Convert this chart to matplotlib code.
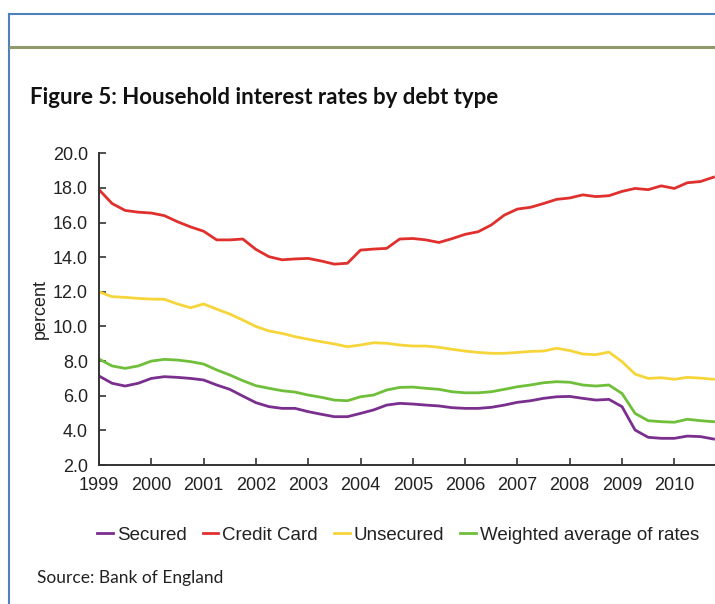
import matplotlib.pyplot as plt
from matplotlib.lines import Line2D
from matplotlib.ticker import FormatStrFormatter
import numpy as np

# Quarterly data, 1999 Q1 .. 2010 Q4
quarters = np.arange(1999, 2010.76, 0.25)

secured = [7.14, 6.72, 6.56, 6.72, 7.0, 7.1, 7.06, 7.0, 6.91, 6.62, 6.37, 5.98,
           5.6, 5.37, 5.27, 5.27, 5.08, 4.93, 4.79, 4.79, 4.98, 5.18, 5.46, 5.56,
           5.52, 5.46, 5.41, 5.31, 5.27, 5.27, 5.33, 5.46, 5.62, 5.71, 5.85, 5.94,
           5.96, 5.85, 5.75, 5.79, 5.37, 4.02, 3.6, 3.54, 3.54, 3.67, 3.64, 3.5]
credit_card = [17.9, 17.1, 16.7, 16.6, 16.55, 16.4, 16.05, 15.75, 15.5, 15.0, 15.0, 15.05,
               14.45, 14.03, 13.85, 13.9, 13.93, 13.78, 13.6, 13.65, 14.41, 14.47, 14.51, 15.05,
               15.08, 15.0, 14.85, 15.07, 15.32, 15.47, 15.86, 16.43, 16.78, 16.88, 17.1, 17.34,
               17.42, 17.6, 17.5, 17.55, 17.8, 17.97, 17.9, 18.12, 17.97, 18.3, 18.37, 18.62]
unsecured = [12.0, 11.72, 11.68, 11.62, 11.58, 11.57, 11.3, 11.08, 11.3, 11.0, 10.72, 10.37,
             10.0, 9.74, 9.6, 9.41, 9.26, 9.12, 8.99, 8.83, 8.93, 9.06, 9.03, 8.93,
             8.87, 8.87, 8.8, 8.68, 8.58, 8.5, 8.45, 8.45, 8.5, 8.56, 8.58, 8.74,
             8.61, 8.41, 8.37, 8.52, 7.97, 7.25, 7.0, 7.04, 6.95, 7.06, 7.02, 6.95]
weighted = [8.12, 7.72, 7.58, 7.72, 8.0, 8.1, 8.06, 7.97, 7.83, 7.49, 7.2, 6.87,
            6.58, 6.43, 6.29, 6.21, 6.04, 5.91, 5.75, 5.71, 5.94, 6.04, 6.33, 6.48,
            6.5, 6.43, 6.37, 6.23, 6.17, 6.17, 6.23, 6.37, 6.52, 6.62, 6.75, 6.81,
            6.78, 6.62, 6.56, 6.62, 6.13, 4.98, 4.56, 4.5, 4.47, 4.64, 4.56, 4.5]

series_names = ['Secured', 'Credit Card', 'Unsecured', 'Weighted average of rates']
series_colors = ['#7A2E8E', '#E0302E', '#F6D53A', '#6FBF3A']
years = list(range(1999, 2011))
yticks = np.arange(2, 20.1, 2)

plt.rcParams['font.family'] = ['Liberation Sans', 'DejaVu Sans']
narrow = ['Lato', 'Liberation Sans', 'DejaVu Sans']

fig = plt.figure(figsize=(7.15, 6.04), dpi=100)
ax = fig.add_axes([99 / 715, 1 - 465 / 604, 616 / 715, (465 - 153.3) / 604])

for vals, name, col in zip([secured, credit_card, unsecured, weighted], series_names, series_colors):
    ax.plot(quarters[:len(vals)], vals, color=col, lw=2.0, label=name)

ax.set_xlim(1999, 1999 + 616 / 52.3)
ax.set_ylim(2, 20)
ax.set_xticks(years)
ax.set_xticklabels([str(y) for y in years])
ax.set_yticks(yticks)
ax.yaxis.set_major_formatter(FormatStrFormatter('%.1f'))
ax.tick_params(direction='in', length=5, width=1.2, color='#333333', labelsize=13,
               labelcolor='#222222')
ax.tick_params(axis='y', pad=8)
ax.tick_params(axis='x', pad=9)
ax.set_ylabel('percent', fontsize=13, color='#222222', labelpad=3)

for side in ['top', 'right']:
    ax.spines[side].set_visible(False)
for side in ['left', 'bottom']:
    ax.spines[side].set_color('#333333')
    ax.spines[side].set_linewidth(1.4)

# Frame and header rule
fig.add_artist(Line2D([9 / 715, 9 / 715], [0, 1 - 14 / 604], color='#4F81BD', lw=1.5))
fig.add_artist(Line2D([9 / 715, 1], [1 - 14 / 604, 1 - 14 / 604], color='#4F81BD', lw=1.5))
fig.add_artist(Line2D([10 / 715, 1], [1 - 47 / 604, 1 - 47 / 604], color='#8F9A6C', lw=2.2))

fig.text(30 / 715, 1 - 97 / 604, 'Figure 5: Household interest rates by debt type',
         family=narrow, fontweight='bold', fontsize=16, va='center', color='#111111')
fig.text(37 / 715, 1 - 578 / 604, 'Source: Bank of England', family=narrow,
         fontsize=12.5, va='center', color='#222222')

fig.legend(loc='center', bbox_to_anchor=(398 / 715, 1 - 535 / 604), ncol=4, frameon=False,
           fontsize=13.5, handlelength=0.85, handletextpad=0.2, columnspacing=0.85,
           labelcolor='#222222')

fig.savefig('out.png', dpi=100)
